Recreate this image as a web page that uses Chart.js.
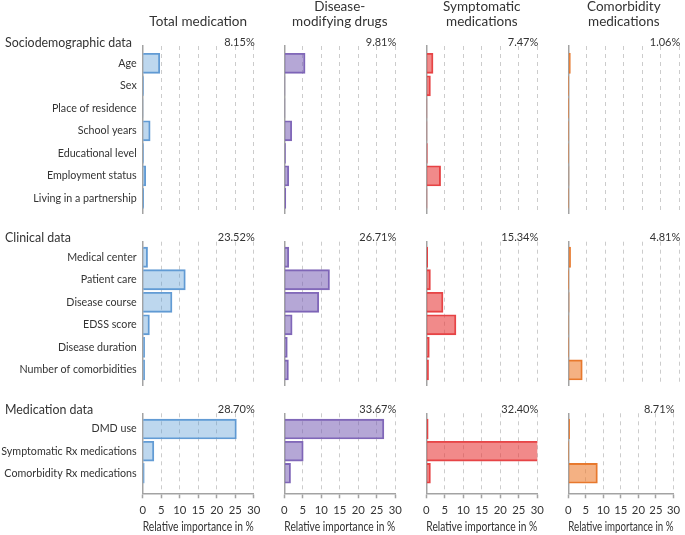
<!DOCTYPE html>
<html><head><meta charset="utf-8">
<script src="https://cdn.jsdelivr.net/npm/chart.js@4"></script>
<style>
html,body{margin:0;padding:0;background:#fff;}
#wrap{position:relative;width:685px;height:535px;overflow:hidden;}
#wrap canvas{position:absolute;left:0;top:0;}
</style>
</head><body><div id="wrap"></div>
<script>
// ---- data ----
const groupNames = ['Sociodemographic data', 'Clinical data', 'Medication data'];
const socioLabels = ['Age', 'Sex', 'Place of residence', 'School years', 'Educational level', 'Employment status', 'Living in a partnership'];
const clinicalLabels = ['Medical center', 'Patient care', 'Disease course', 'EDSS score', 'Disease duration', 'Number of comorbidities'];
const medicationLabels = ['DMD use', 'Symptomatic Rx medications', 'Comorbidity Rx medications'];
const panelTitles = [['Total medication'], ['Disease-', 'modifying drugs'], ['Symptomatic', 'medications'], ['Comorbidity', 'medications']];
const xTickValues = [0, 5, 10, 15, 20, 25, 30];
const xAxisTitle = 'Relative importance in %';

const totalMedSocio = [4.6, 0.2, 0.1, 2.0, 0.2, 0.8, 0.25];
const totalMedClinical = [1.3, 11.5, 7.9, 1.8, 0.5, 0.5];
const totalMedMedication = [25.3, 3.0, 0.4];
const totalMedShares = [8.15, 23.52, 28.70];

const dmdSocio = [5.6, 0.15, 0.15, 2.0, 0.3, 1.2, 0.4];
const dmdClinical = [1.2, 12.2, 9.3, 2.1, 0.8, 1.1];
const dmdMedication = [26.9, 5.1, 1.67];
const dmdShares = [9.81, 26.71, 33.67];

const sympSocio = [1.8, 1.1, 0.15, 0.15, 0.25, 3.85, 0.17];
const sympClinical = [0.35, 1.1, 4.5, 8.0, 0.8, 0.59];
const sympMedication = [0.5, 30.8, 1.1];
const sympShares = [7.47, 15.34, 32.40];

const comorbSocio = [0.55, 0.05, 0.05, 0.08, 0.08, 0.15, 0.1];
const comorbClinical = [0.6, 0.05, 0.2, 0.12, 0.08, 3.76];
const comorbMedication = [0.35, 0.08, 8.28];
const comorbShares = [1.06, 4.81, 8.71];

// ---- styling / layout ----
const FONT = 'Lato, "Open Sans", sans-serif';
const TEXT = '#333333';
const AXIS = '#a3a3a3';
const GRID = '#cccccc';
const W = 685, H = 535;

const groupLabels = [socioLabels, clinicalLabels, medicationLabels];
const panels = [
  {values: [totalMedSocio, totalMedClinical, totalMedMedication], shares: totalMedShares,
   fill: 'rgba(91,155,213,0.40)', border: 'rgba(91,150,210,0.95)'},
  {values: [dmdSocio, dmdClinical, dmdMedication], shares: dmdShares,
   fill: 'rgba(120,95,180,0.55)', border: 'rgba(130,105,185,1)'},
  {values: [sympSocio, sympClinical, sympMedication], shares: sympShares,
   fill: 'rgba(232,60,60,0.60)', border: 'rgba(230,70,72,1)'},
  {values: [comorbSocio, comorbClinical, comorbMedication], shares: comorbShares,
   fill: 'rgba(237,125,49,0.60)', border: 'rgba(230,120,45,1)'}
];
const colX0 = [142.7, 284.3, 426.3, 568.3];
const colWidth = 111;
const groupGeom = [
  {top: 46, bottom: 213, min: -0.77, max: 6.65},
  {top: 241.7, bottom: 385, min: -0.69, max: 5.67},
  {top: 413.3, bottom: 493.3, min: -0.71, max: 2.9}
];
const X_AXIS_H = 41.5;

function textPlugin(info) {
  return {
    id: 'panelText',
    afterDraw(chart) {
      const {ctx, chartArea: a} = chart;
      ctx.save();
      ctx.fillStyle = TEXT;
      ctx.textBaseline = 'alphabetic';
      if (info.share) {
        ctx.font = '11px ' + FONT;
        ctx.textAlign = 'right';
        ctx.fillText(info.share, a.right + 1, a.top - 0.5);
      }
      if (info.group) {
        ctx.font = '12.4px ' + FONT;
        ctx.textAlign = 'left';
        ctx.fillText(info.group, 5, a.top + 0.5);
      }
      if (info.title) {
        ctx.font = '13.5px ' + FONT;
        ctx.textAlign = 'center';
        const cx = (a.left + a.right) / 2;
        const bl = info.title.length === 1 ? [25.5] : [11, 25.5];
        info.title.forEach((t, i) => ctx.fillText(t, cx, bl[i]));
      }
      ctx.restore();
    }
  };
}

const wrap = document.getElementById('wrap');
panels.forEach((p, c) => {
  groupGeom.forEach((g, gi) => {
    const labels = groupLabels[gi];
    const vals = p.values[gi];
    const isBottom = gi === groupGeom.length - 1;
    const cv = document.createElement('canvas');
    cv.width = W; cv.height = H;
    cv.style.width = W + 'px'; cv.style.height = H + 'px';
    wrap.appendChild(cv);
    const left = c === 0 ? 0 : colX0[c];
    new Chart(cv, {
      type: 'bar',
      data: {
        datasets: [{
          data: vals.map((v, i) => ({x: v, y: i})),
          backgroundColor: p.fill,
          borderColor: p.border,
          borderWidth: 1.1,
          inflateAmount: 0.4,
          barPercentage: 0.89,
          categoryPercentage: 1
        }]
      },
      options: {
        indexAxis: 'y',
        responsive: false,
        animation: false,
        events: [],
        layout: {padding: {left: left, right: W - (colX0[c] + colWidth), top: g.top,
                           bottom: H - g.bottom - (isBottom ? X_AXIS_H : 0)}},
        plugins: {legend: {display: false}, tooltip: {enabled: false}, title: {display: false}},
        scales: {
          x: {
            type: 'linear', min: 0, max: 30, offset: false,
            afterBuildTicks: s => { s.ticks = xTickValues.map(v => ({value: v})); },
            afterFit: s => { s.height = isBottom ? X_AXIS_H : 0; },
            ticks: {display: isBottom, color: TEXT, font: {family: FONT, size: 11.3}, padding: 5, maxRotation: 0},
            grid: {
              offset: false,
              color: ctx => (ctx.tick && ctx.tick.value === 0) ? 'rgba(0,0,0,0)' : GRID,
              lineWidth: 1, drawTicks: isBottom, tickLength: 5, tickColor: AXIS, tickWidth: 1.5
            },
            border: {display: isBottom, color: AXIS, width: 1.5, dash: [4, 4]},
            title: {display: isBottom, text: xAxisTitle, color: TEXT, font: {family: FONT, size: 12.6}, padding: 0}
          },
          y: {
            type: 'linear', reverse: true, min: g.min, max: g.max, offset: false,
            afterBuildTicks: s => { s.ticks = labels.map((_, i) => ({value: i})); },
            afterFit: s => { s.width = c === 0 ? colX0[0] : 0; },
            ticks: {display: c === 0, autoSkip: false, padding: 6, color: TEXT,
                    font: {family: FONT, size: 10.7}, callback: v => labels[v]},
            grid: {display: false, drawTicks: false, offset: false},
            border: {display: true, color: AXIS, width: 1.5}
          }
        }
      },
      plugins: [textPlugin({
        share: p.shares[gi].toFixed(2) + '%',
        group: c === 0 ? groupNames[gi] : null,
        title: gi === 0 ? panelTitles[c] : null
      })]
    });
  });
});
</script>
</body></html>
